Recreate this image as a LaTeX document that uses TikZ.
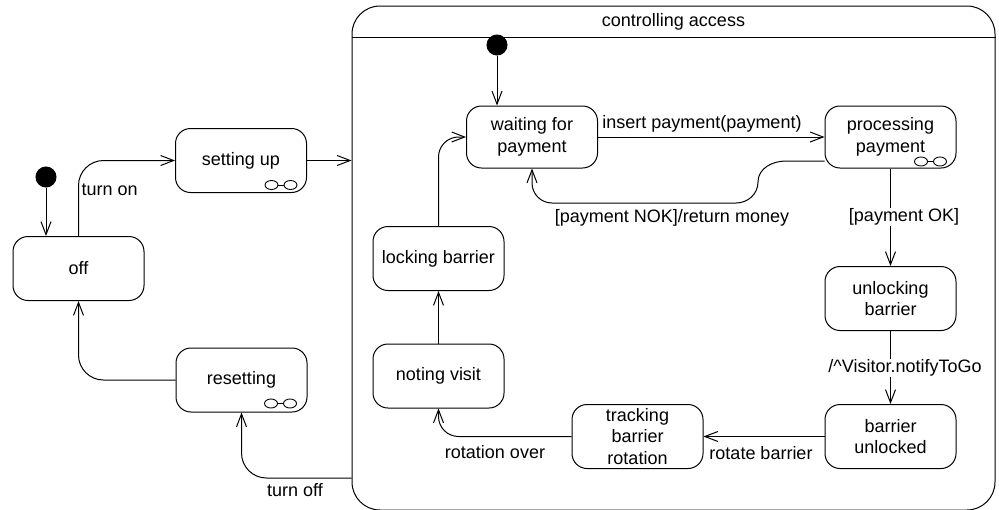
\documentclass[tikz,border=0pt]{standalone}
\usepackage{fontspec}
\setmainfont{Liberation Sans}
\usetikzlibrary{arrows.meta}
\begin{document}
\begin{tikzpicture}[x=1pt,y=-1pt,
  font=\fontsize{18}{21.5}\selectfont,
  line width=1pt,
  stbox/.style={draw, rounded corners=15pt, align=center, inner sep=0pt,
    minimum width=131pt, minimum height=64pt},
  initdot/.style={circle, fill=black, draw=black, minimum size=20pt, inner sep=0pt},
  arr/.style={-{Straight Barb[length=13pt,width=10pt]}},
  lbl/.style={inner sep=1pt},
  compicon/.pic={
    \draw[line width=0.9pt] (-9.5,0) ellipse [x radius=6.5pt, y radius=4.5pt]
                            (9.5,0) ellipse [x radius=6.5pt, y radius=4.5pt];
    \draw[line width=0.9pt] (-3,0) -- (3,0);
  }]
\useasboundingbox (0,0) rectangle (999,509);

% composite state "controlling access"
\node[draw, rounded corners=28pt, minimum width=643pt, minimum height=504pt,
      inner sep=0pt] (ca) at (673.5,258) {};
\draw ([yshift=-32pt]ca.north west) -- ([yshift=-32pt]ca.north east);
\node (catitle) at (673.5,22) {controlling access};

% outer states
\node[initdot] (init1) at (46,177) {};
\node[stbox] (off) at (78.5,268.5) {off};
\node[stbox] (setup) at (241,160.5) {setting up};
\node[stbox] (reset) at (241.5,380) {resetting};
\pic at ([xshift=-26pt,yshift=8pt]setup.south east) {compicon};
\pic at ([xshift=-27pt,yshift=9pt]reset.south east) {compicon};

% inner states
\node[initdot] (init2) at (497,45) {};
\node[stbox, minimum height=62pt] (wait) at (532,137) {waiting for\\payment};
\node[stbox, minimum height=62pt] (proc) at (890.5,137) {processing\\payment};
\pic at ([xshift=-26pt,yshift=7pt]proc.south east) {compicon};
\node[stbox] (unlock) at (890.5,298.5) {unlocking\\barrier};
\node[stbox] (bunl) at (890.5,436.5) {barrier\\unlocked};
\node[stbox] (track) at (637.5,436.5) {tracking\\barrier\\rotation};
\node[stbox] (note) at (438.5,376) {noting visit};
\node[stbox] (lock) at (438.5,258.5) {locking barrier};

% outer transitions
\draw[arr] (init1) -- (init1 |- off.north);
\draw[arr, rounded corners=25pt] (off.north) |- (setup.west);
\node[lbl, anchor=west] (lturnon) at (80,190) {turn on};
\draw[arr] (setup.east) -- (setup.east -| ca.west);
\draw[arr, rounded corners=25pt] (reset.west) -| (off.south);
\draw[arr, rounded corners=25pt] ([yshift=-220pt]ca.west) -| (reset.south);
\node[lbl] (lturnoff) at (295,490) {turn off};

% inner transitions
\draw[arr] (init2) -- (init2 |- wait.north);
\draw[arr] (wait.east) -- (proc.west);
\node[lbl] (lins) at (702,124) {insert payment(payment)};
\draw[arr] ([yshift=-24pt]proc.west) -- (786,161)
   to[out=180,in=90] (758,182) to[out=-90,in=0] (736,203)
   [rounded corners=20pt] -| (wait.south);
\node[lbl] (lnok) at (672,218) {[payment NOK]/return money};
\draw[arr] (proc.south) -- (unlock.north);
\node[lbl, fill=white] (lok) at (904,217) {[payment OK]};
\draw[arr] (unlock.south) -- (bunl.north);
\node[lbl, fill=white] (lnotify) at (905,368) {/{\char"5E}Visitor.notifyToGo};
\draw[arr] (bunl.west) -- (track.east);
\node[lbl] (lrot) at (761,453) {rotate barrier};
\draw[arr, rounded corners=20pt] (track.west) -| (note.south);
\node[lbl] (lover) at (495,452) {rotation over};
\draw[arr] (note.north) -- (lock.south);
\draw[arr, rounded corners=20pt] (lock.north) |- (wait.west);
\end{tikzpicture}
\end{document}
